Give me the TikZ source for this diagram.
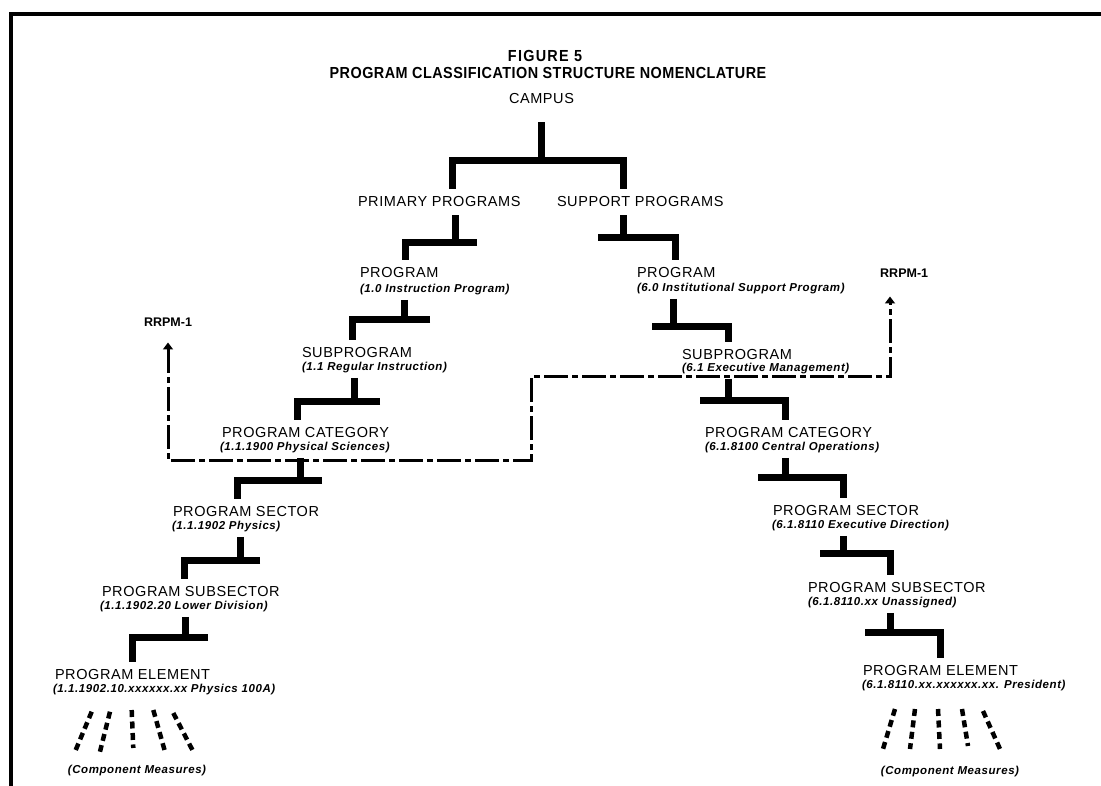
\documentclass[tikz,border=0pt]{standalone}
\usepackage{fontspec}
\setmainfont{Liberation Sans}
\newfontfamily\headfont[FakeStretch=0.9,LetterSpace=3]{Liberation Sans}
\newfontfamily\figfont[FakeStretch=0.9,LetterSpace=8]{Liberation Sans}
\newfontfamily\lvlfont[LetterSpace=4]{Liberation Sans}
\newfontfamily\subfont[LetterSpace=5]{Liberation Sans}
\usetikzlibrary{arrows.meta}

\tikzset{
  lvl/.style={font=\lvlfont\fontsize{14.5}{16}\selectfont, inner sep=0pt,
              outer xsep=0pt, outer ysep=8pt, anchor=west},
  sub/.style={font=\subfont\bfseries\itshape\fontsize{11.5}{13}\selectfont, inner sep=0pt,
              outer xsep=0pt, outer ysep=4.5pt, anchor=west},
  tag/.style={font=\bfseries\fontsize{12.5}{14}\selectfont, inner sep=0pt},
  tree/.style={line width=7pt, line join=miter},
  rrpm/.style={line width=3pt, dash pattern=on 24pt off 4pt on 6pt off 4pt,
               {Triangle[width=10pt,length=7pt]}-{Triangle[width=10pt,length=7pt]}},
  measure/.style={line width=4.5pt, dash pattern=on 7pt off 4.5pt}
}

% parent node, child title, vertical x, bar y, stub end x, drop x
\newcommand\tlink[6]{%
  \coordinate (J#2) at (#3,#4);
  \coordinate (S#2) at (#5,#4);
  \coordinate (D#2) at (#6,#4);
  \draw[tree] (#1.south -| J#2) -- (J#2);
  \draw[tree] (S#2) -- (D#2) -- (#2.north -| D#2);
}

\begin{document}
\begin{tikzpicture}[x=1pt,y=-1pt]
\useasboundingbox (0,0) rectangle (1101,786);

% frame
\draw[line width=4pt] (1101,14.5) -- (10.5,14.5) -- (10.5,786);

% heading
\node[inner sep=0pt, font=\figfont\bfseries\fontsize{16}{18}\selectfont] (fig) at (545,56) {FIGURE 5};
\node[inner sep=0pt, font=\headfont\bfseries\fontsize{16}{18}\selectfont] (head) at (548,72.5)
  {PROGRAM CLASSIFICATION STRUCTURE NOMENCLATURE};

% top levels
\node[lvl, anchor=center] (campus) at (541.5,99) {CAMPUS};
\node[lvl] (pp) at (358,202) {PRIMARY PROGRAMS};
\node[lvl] (sp) at (557,202) {SUPPORT PROGRAMS};

% primary branch
\node[lvl] (lp)  at (360,273) {PROGRAM};
\node[sub] (lps) at (360,290) {(1.0 Instruction Program)};
\node[lvl] (ls)  at (302,353) {SUBPROGRAM};
\node[sub] (lss) at (302,368) {(1.1 Regular Instruction)};
\node[lvl] (lc)  at (222,433) {PROGRAM CATEGORY};
\node[sub] (lcs) at (220,448) {(1.1.1900 Physical Sciences)};
\node[lvl] (lse)  at (173,512) {PROGRAM SECTOR};
\node[sub] (lses) at (172,527) {(1.1.1902 Physics)};
\node[lvl] (lsu)  at (102,592) {PROGRAM SUBSECTOR};
\node[sub] (lsus) at (100,607) {(1.1.1902.20 Lower Division)};
\node[lvl] (le)  at (55,675) {PROGRAM ELEMENT};
\node[sub] (les) at (53,690) {(1.1.1902.10.xxxxxx.xx Physics 100A)};
\node[sub, anchor=center] (lcm) at (137,771) {(Component Measures)};

% support branch
\node[lvl] (rp)  at (637,273) {PROGRAM};
\node[sub] (rps) at (637,289) {(6.0 Institutional Support Program)};
\node[lvl] (rs)  at (682,355) {SUBPROGRAM};
\node[sub] (rss) at (682,369) {(6.1 Executive Management)};
\node[lvl] (rc)  at (705,433) {PROGRAM CATEGORY};
\node[sub] (rcs) at (705,448) {(6.1.8100 Central Operations)};
\node[lvl] (rse)  at (773,511) {PROGRAM SECTOR};
\node[sub] (rses) at (772,526) {(6.1.8110 Executive Direction)};
\node[lvl] (rsu)  at (808,588) {PROGRAM SUBSECTOR};
\node[sub] (rsus) at (808,603) {(6.1.8110.xx Unassigned)};
\node[lvl] (re)  at (863,671) {PROGRAM ELEMENT};
\node[sub] (res) at (862,686) {(6.1.8110.xx.xxxxxx.xx. President)};
\node[sub, anchor=center] (rcm) at (950,772) {(Component Measures)};

% campus split
\coordinate (Dtl) at (452,161);
\coordinate (Dtr) at (623,161);
\draw[tree] ([yshift=-10pt]campus.south) -- (campus.south |- Dtl);
\draw[tree] (pp.north -| Dtl) -- (Dtl) -- (Dtr) -- (sp.north -| Dtr);

% primary branch links
\tlink{pp}{lp}{455}{243}{477}{405}
\tlink{lps}{ls}{404}{320}{430}{352}
\tlink{lss}{lc}{354}{402}{380}{297}
\tlink{lcs}{lse}{300}{480}{322}{237}
\tlink{lses}{lsu}{240}{560}{260}{184}
\tlink{lsus}{le}{185}{637}{208}{132}

% support branch links
\tlink{sp}{rp}{623}{238}{598}{675}
\tlink{rps}{rs}{673}{327}{652}{728}
\tlink{rss}{rc}{728}{401}{700}{785}
\tlink{rcs}{rse}{785}{477}{758}{843}
\tlink{rses}{rsu}{843}{553}{820}{890}
\tlink{rsus}{re}{890}{632}{865}{940}

% RRPM-1 cross reference
\node[tag] (rrl) at (168,322) {RRPM-1};
\node[tag, anchor=west] (rrr) at (880,273) {RRPM-1};
\coordinate (K1) at (531,460);
\coordinate (K2) at (890,377);
\path (rrl.south) ++(0,16) coordinate (Tl);
\path (K2 |- rrr.south) ++(0,19) coordinate (Tr);
\draw[rrpm] (Tl) |- (K1) |- (K2) -- (Tr);

% component measures, primary side
\draw[measure] (91.7,711.7) -- (75,751.7);
\draw[measure] (110,711.7) -- (100,751.7);
\draw[measure] (131.7,710) -- (133.3,748);
\draw[measure] (153.3,710) -- (165,751.7);
\draw[measure] (173.3,713) -- (193.3,751.7);

% component measures, support side
\draw[measure] (895,709) -- (883,749);
\draw[measure] (915,709) -- (910,749);
\draw[measure] (938,709) -- (940,749);
\draw[measure] (962,709) -- (968,746);
\draw[measure] (983,711) -- (1000,749);
\end{tikzpicture}
\end{document}
